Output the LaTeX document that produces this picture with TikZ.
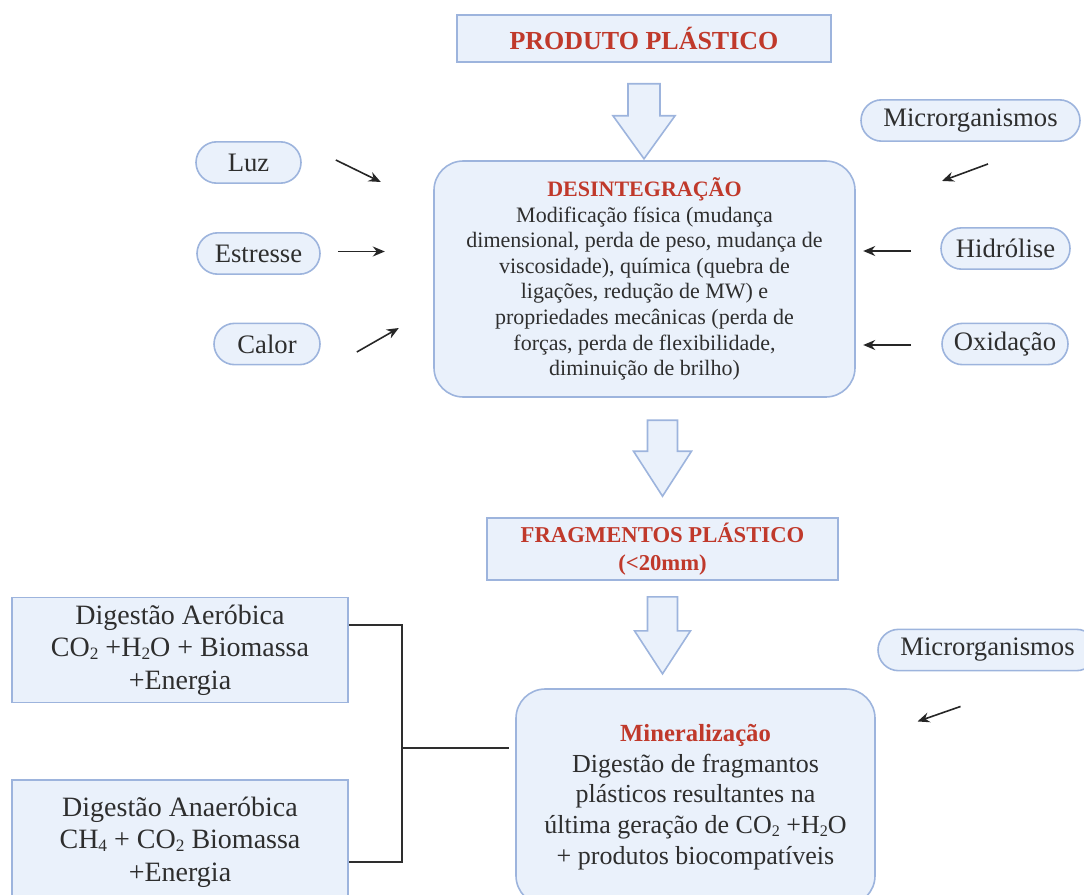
\documentclass[tikz,border=0pt]{standalone}
\usepackage{fontspec}
\setmainfont{Liberation Serif}
\usetikzlibrary{shapes.misc, arrows.meta, calc}
\definecolor{azulclaro}{HTML}{EAF1FB}
\definecolor{azulborda}{HTML}{9DB4DD}
\definecolor{vermelho}{HTML}{C0392B}
\definecolor{cinza}{HTML}{2E2E2E}
\newcommand{\indice}[1]{\raisebox{-0.25ex}{\scalebox{0.62}{#1}}}

\begin{document}
\begin{tikzpicture}[x=0.75pt, y=-0.75pt]
	\tikzstyle{caixa} = [rectangle, draw=azulborda, fill=azulclaro, line width=1.2pt, 
	text=cinza, align=center, inner sep=0pt]
	\tikzstyle{titulo} = [caixa, text=vermelho, font=\bfseries\fontsize{19.5}{22}\selectfont]
	\tikzstyle{processo} = [caixa, rounded corners=22pt]
	\tikzstyle{fator} = [rounded rectangle, draw=azulborda, fill=azulclaro, line width=1.2pt, 
	text=cinza, minimum height=31pt, inner sep=0pt, font=\fontsize{20}{24}\selectfont]
	\tikzstyle{digestao} = [caixa, minimum width=252pt, font=\fontsize{21}{24.4}\selectfont]
	\tikzstyle{seta} = [line width=1.2pt, -{Stealth[length=9pt, width=7.5pt]}, draw=black!85]
	\tikzstyle{bloco} = [draw=azulborda, fill=azulclaro, line width=1.2pt]
	\tikzstyle{linha} = [line width=1.4pt, draw=cinza]
	\useasboundingbox (0,0) rectangle (1084,895);
	% etapas
	\node (produto) [titulo, minimum width=280.5pt, minimum height=35.25pt] at (644,38.5) {PRODUTO PLÁSTICO};
	\node (desint) [processo, minimum width=315.75pt, minimum height=177pt, 
	font=\fontsize{16.5}{19.2}\selectfont] at (644.5,279) {\textcolor{vermelho}{\bfseries DESINTEGRAÇÃO}\\
	Modificação física (mudança\\dimensional, perda de peso, mudança de\\viscosidade), química (quebra de\\
	ligações, redução de MW) e\\propriedades mecânicas (perda de\\forças, perda de flexibilidade,\\diminuição de brilho)};
	\node (fragmentos) [titulo, minimum width=263.25pt, minimum height=46.5pt, 
	font=\bfseries\fontsize{17}{21}\selectfont] at (662.5,549) {FRAGMENTOS PLÁSTICO\\(<20mm)};
	\node (mineral) [processo, minimum width=269.25pt, minimum height=162pt, 
	font=\fontsize{19.5}{23}\selectfont] at (695.5,797) {\textcolor{vermelho}{\bfseries\fontsize{18.5}{23}\selectfont Mineralização}\\
	Digestão de fragmantos\\plásticos resultantes na\\última geração de CO\indice{2} +H\indice{2}O\\+ produtos biocompatíveis};
	\node (aerobica) [digestao, minimum height=78.75pt] at (180,650) {Digestão Aeróbica\\CO\indice{2} +H\indice{2}O + Biomassa\\+Energia};
	\node (anaerobica) [digestao, minimum height=93pt] at (180,842) {Digestão Anaeróbica\\CH\indice{4} + CO\indice{2} Biomassa\\+Energia};
	% fatores
	\node (luz) [fator, minimum width=78.75pt] at (248.5,162.5) {Luz};
	\node (estresse) [fator, minimum width=92.25pt] at (258.5,253.5) {Estresse};
	\node (calor) [fator, minimum width=79.5pt] at (267,344) {Calor};
	\node (micro1) [fator, minimum width=164.25pt] at (970.5,120.5) {Microrganismos};
	\node (hidrolise) [fator, minimum width=96.75pt] at (1005.5,248.5) {Hidrólise};
	\node (oxidacao) [fator, minimum width=94.5pt] at (1005,344) {Oxidação};
	\node (micro2) [fator, minimum width=164.25pt] at (987.5,650) {Microrganismos};
	\coordinate (juncao) at (402,748);
	% setas grandes
	\draw [bloco] ($(produto.south)+(0,21)$) ++(-16,0) -- ++(0,32) -- ++(-15,0) -- ++(31,43) 
	-- ++(31,-43) -- ++(-15,0) -- ++(0,-32) -- cycle;
	\draw [bloco] ($(fragmentos.north)+(0,-97)$) ++(-15,0) -- ++(0,31) -- ++(-14,0) -- ++(29,45) 
	-- ++(29,-45) -- ++(-14,0) -- ++(0,-31) -- cycle;
	\draw [bloco] ($(fragmentos.south)+(0,16)$) ++(-15,0) -- ++(0,34) -- ++(-13,0) -- ++(28,43) 
	-- ++(28,-43) -- ++(-13,0) -- ++(0,-34) -- cycle;
	% setas dos fatores
	\draw [seta] ([shift={(34,-2.5)}]luz.east) -- ([shift={(79,19.5)}]luz.east);
	\draw [seta] ([shift={(17,-2)}]estresse.east) -- ([shift={(64,-2)}]estresse.east);
	\draw [seta] ([shift={(36,8)}]calor.east) -- ([shift={(78,-16)}]calor.east);
	\draw [seta] ([shift={(17.5,22)}]micro1.south) -- ([shift={(-28.5,39)}]micro1.south);
	\draw [seta] ([shift={(-29,2.5)}]hidrolise.west) -- ([shift={(-77,2.5)}]hidrolise.west);
	\draw [seta] ([shift={(-30,1)}]oxidacao.west) -- ([shift={(-78,1)}]oxidacao.west);
	\draw [seta] ([shift={(-27,35)}]micro2.south) -- ([shift={(-70,50)}]micro2.south);
	% ligacoes da digestao
	\draw [linha] ([shift={(0,-25)}]aerobica.east) -| (juncao) |- ([shift={(0,20)}]anaerobica.east);
	\draw [linha] (juncao) -- ([shift={(-6,-49)}]mineral.west);
\end{tikzpicture}
\end{document}
